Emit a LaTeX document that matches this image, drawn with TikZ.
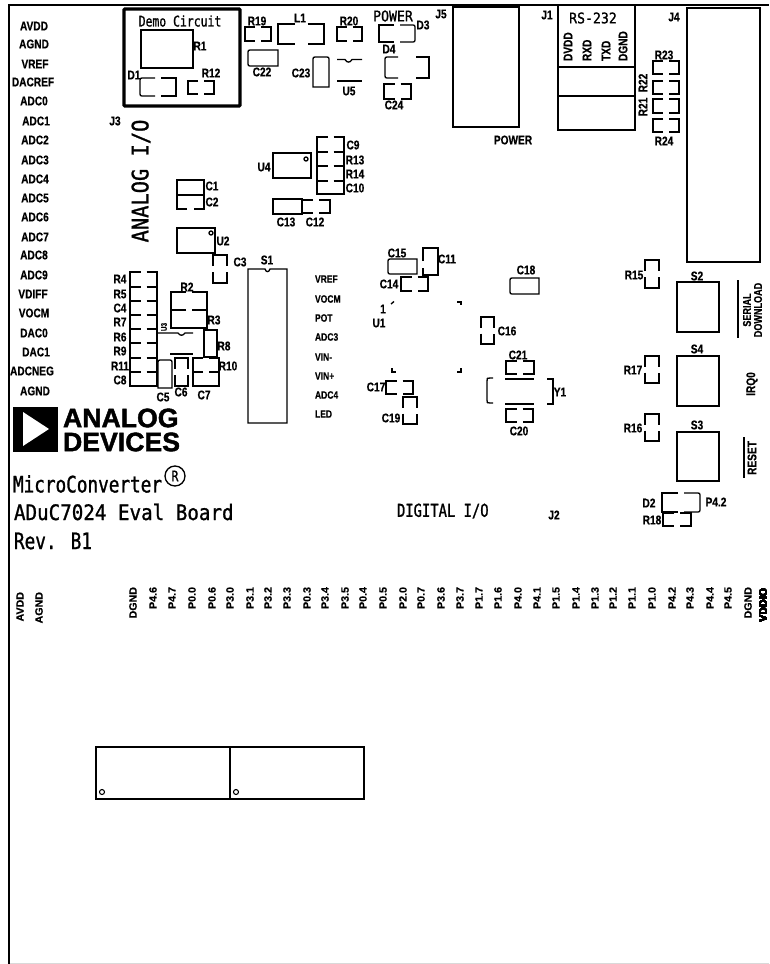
\documentclass[tikz,border=0pt]{standalone}
\usepackage{fontspec}
\setmainfont{Liberation Sans}
\newfontfamily\cadn[FakeStretch=0.8,FakeBold=0.5]{Liberation Sans}
\newfontfamily\cadw[FakeStretch=1.0,FakeBold=0.5]{Liberation Sans}
\newfontfamily\cadm[FakeStretch=0.9,FakeBold=1.1]{DejaVu Sans Mono}
\newfontfamily\cadt[FakeStretch=0.78,FakeBold=1.1]{DejaVu Sans Mono}
\newfontfamily\adif[FakeBold=1.6]{Liberation Sans}
\newcounter{lb}
\newcommand\gapw{3}
\tikzset{
  wire/.style={line width=1pt,line join=miter,line cap=butt},
  lab/.style={inner sep=0pt,outer sep=0pt,font=\cadn\bfseries\fontsize{9.5}{11}\selectfont},
  sm/.style={inner sep=0pt,outer sep=0pt,font=\cadn\bfseries\fontsize{8}{9}\selectfont},
  pin/.style={inner sep=0pt,outer sep=0pt,rotate=90,anchor=east,font=\cadw\bfseries\fontsize{8}{9}\selectfont},
  stroke/.style={inner sep=0pt,outer sep=0pt,font=\cadt\fontsize{11}{13}\selectfont},
  strokew/.style={inner sep=0pt,outer sep=0pt,font=\cadm\fontsize{11}{13}\selectfont},
  title/.style={inner sep=0pt,outer sep=0pt,anchor=west,font=\cadm\fontsize{16}{19}\selectfont},
  titlen/.style={inner sep=0pt,outer sep=0pt,anchor=west,font=\cadt\fontsize{17}{19}\selectfont},
  adi/.style={inner sep=0pt,outer sep=0pt,anchor=west,font=\adif\bfseries\fontsize{20}{22}\selectfont},
}
% text label with an automatic name
\newcommand\lbl[4][]{\stepcounter{lb}\node[lab,#1] (t\arabic{lb}) at (#2,#3) {#4};}
\newcommand\smlbl[3]{\stepcounter{lb}\node[sm,anchor=west] (t\arabic{lb}) at (#1,#2) {#3};}
\newcommand\pinl[3]{\stepcounter{lb}\node[pin] (t\arabic{lb}) at (#1,#2) {#3};}
% pad with a gap in the top and bottom edges
\newcommand\padH[5][]{%
  \pgfmathsetmacro\gl{(#2+#4)/2-\gapw}\pgfmathsetmacro\gr{(#2+#4)/2+\gapw}%
  \draw[wire,#1] (\gl,#3) -- (#2,#3) -- (#2,#5) -- (\gl,#5);
  \draw[wire,#1] (\gr,#3) -- (#4,#3) -- (#4,#5) -- (\gr,#5);}
% pad with a gap in the left and right edges
\newcommand\padV[5][]{%
  \pgfmathsetmacro\gt{(#3+#5)/2-\gapw}\pgfmathsetmacro\gb{(#3+#5)/2+\gapw}%
  \draw[wire,#1] (#2,\gt) -- (#2,#3) -- (#4,#3) -- (#4,\gt);
  \draw[wire,#1] (#2,\gb) -- (#2,#5) -- (#4,#5) -- (#4,\gb);}
% same, one end rounded
\newcommand\padHL[4]{%
  \pgfmathsetmacro\gl{(#1+#3)/2-\gapw}\pgfmathsetmacro\gr{(#1+#3)/2+\gapw}%
  \draw[wire] (\gl,#2) -- (#1+4,#2) .. controls (#1,#2) and (#1,#2) .. (#1,#2+4) -- (#1,#4-4) .. controls (#1,#4) and (#1,#4) .. (#1+4,#4) -- (\gl,#4);
  \draw[wire] (\gr,#2) -- (#3,#2) -- (#3,#4) -- (\gr,#4);}
\newcommand\padHR[4]{%
  \pgfmathsetmacro\gl{(#1+#3)/2-\gapw}\pgfmathsetmacro\gr{(#1+#3)/2+\gapw}%
  \draw[wire] (\gl,#2) -- (#1,#2) -- (#1,#4) -- (\gl,#4);
  \draw[wire] (\gr,#2) -- (#3-4,#2) .. controls (#3,#2) and (#3,#2) .. (#3,#2+4) -- (#3,#4-4) .. controls (#3,#4) and (#3,#4) .. (#3-4,#4) -- (\gr,#4);}
% closed pad, rounded on the left
\newcommand\solidL[4]{%
  \draw[wire] (#1+4,#2) -- (#3,#2) -- (#3,#4) -- (#1+4,#4) .. controls (#1,#4) and (#1,#4) .. (#1,#4-4) -- (#1,#2+4) .. controls (#1,#2) and (#1,#2) .. (#1+4,#2) -- cycle;}
% closed pad, rounded on top
\newcommand\solidT[4]{%
  \draw[wire] (#1,#4) -- (#1,#2+4) .. controls (#1,#2) and (#1,#2) .. (#1+4,#2) -- (#3-4,#2) .. controls (#3,#2) and (#3,#2) .. (#3,#2+4) -- (#3,#4) -- cycle;}
\begin{document}
\begin{tikzpicture}[x=0.75pt,y=-0.75pt]
\useasboundingbox (0,0) rectangle (769,964);
% border
\draw[line width=1.4pt] (9.3,964) -- (9.3,5) -- (769,5);
\draw[line width=0.6pt,black!15] (10,963.3) -- (769,963.3);
% demo circuit
\draw[line width=2.4pt,rounded corners=0.6pt] (124,9) rectangle (240,106);
\lbl[stroke]{180}{21}{Demo Circuit}
\draw[wire] (141,30) rectangle (193,68);
\lbl{200}{46}{R1}
\lbl{134}{75}{D1}
\padHL{140}{78}{176}{96}
\lbl{211}{73}{R12}
\padH{188}{81}{214}{94}
\padH{245}{27}{271}{41}
\lbl{257}{21}{R19}
\renewcommand\gapw{6.5}
\padH{278}{24}{324}{44}
\renewcommand\gapw{3}
\lbl{300}{18}{L1}
\padH{337}{27}{362}{41}
\lbl{349}{21}{R20}
\lbl[strokew]{393}{16}{POWER}
\padHR{379}{25}{415}{42}
\lbl{423}{25}{D3}
\lbl{389}{49}{D4}
\renewcommand\gapw{9}
\padHL{385}{57}{429}{78}
\renewcommand\gapw{3}
\padH{384}{84}{411}{99}
\lbl{394}{105}{C24}
\solidL{248}{50}{278}{66}
\lbl{262}{72}{C22}
\solidT{313}{57}{329}{87}
\lbl{301}{73}{C23}
\draw[wire] (337,59.5) -- (345,59.5) .. controls (347,63) and (350,63) .. (352,59.5) -- (362,59.5);
\draw[wire] (337,81) -- (362,81);
\lbl{349}{91}{U5}
\lbl{115}{121}{J3}
\stepcounter{lb}\node[stroke,rotate=90,font=\cadm\fontsize{17}{20}\selectfont] (analog) at (141,181) {ANALOG I/O};
% C1 C2
\draw[wire] (177,180) rectangle (204,195);
\draw[wire] (187,209) -- (177,209) -- (177,195) -- (204,195) -- (204,209) -- (194,209);
\lbl{212}{186}{C1}
\lbl{212}{202}{C2}
% U2
\draw[wire] (177,228) rectangle (215,253);
\draw[wire] (211,233) circle (2);
\lbl{223}{241}{U2}
\padV{213}{255}{227}{283}
\lbl{240}{262}{C3}
% U4
\draw[wire] (273,153) rectangle (311,178);
\draw[wire] (306,159) circle (2);
\lbl{264}{167}{U4}
\padH{317}{137}{344}{152}
\padH{317}{152}{344}{166}
\padH{317}{166}{344}{181}
\padH{317}{181}{344}{194}
\draw[wire] (317,194) -- (344,194);
\draw[wire,line width=1.8pt] (317,152) -- (327,152) (334,152) -- (344,152);
\lbl{353}{145}{C9}
\lbl{355}{160}{R13}
\lbl{355}{174}{R14}
\lbl{355}{188}{C10}
\draw[wire] (273,199) rectangle (302,214);
\padH{302}{200}{330}{213}
\lbl{286}{222}{C13}
\lbl{315}{222}{C12}
% S1
\draw[wire] (248,269) -- (265,269) .. controls (266,272.5) and (269,272.5) .. (270,269) -- (287,269) -- (287,423) -- (248,423) -- cycle;
\lbl{267}{260}{S1}
\smlbl{315}{279}{VREF}
\smlbl{315}{299}{VOCM}
\smlbl{315}{318}{POT}
\smlbl{315}{337}{ADC3}
\smlbl{315}{357}{VIN-}
\smlbl{315}{376}{VIN+}
\smlbl{315}{395}{ADC4}
\smlbl{315}{414}{LED}
% left list
\lbl{34}{26}{AVDD}
\lbl{34}{44}{AGND}
\lbl{35}{64}{VREF}
\lbl{33}{82}{DACREF}
\lbl{34}{101}{ADC0}
\lbl{36}{121}{ADC1}
\lbl{35}{140}{ADC2}
\lbl{35}{160}{ADC3}
\lbl{35}{179}{ADC4}
\lbl{35}{198}{ADC5}
\lbl{35}{217}{ADC6}
\lbl{35}{237}{ADC7}
\lbl{34}{255}{ADC8}
\lbl{34}{275}{ADC9}
\lbl{33}{294}{VDIFF}
\lbl{34}{313}{VOCM}
\lbl{34}{333}{DAC0}
\lbl{36}{352}{DAC1}
\lbl{32}{371}{ADCNEG}
\lbl{35}{391}{AGND}
% resistor stack
\padH{130}{272}{157}{287}
\padH{130}{287}{157}{301}
\padH{130}{301}{157}{315}
\padH{130}{315}{157}{329}
\padH{130}{329}{157}{343}
\padH{130}{343}{157}{358}
\padH{130}{358}{157}{372}
\padH{130}{372}{157}{386}
\draw[wire] (130,386) -- (157,386);
\foreach \yy in {301,329,343,358,372}
  \draw[wire,line width=1.6pt] (130,\yy) -- (140,\yy) (147,\yy) -- (157,\yy);
\lbl{120}{279}{R4}
\lbl{120}{294}{R5}
\lbl{120}{308}{C4}
\lbl{120}{322}{R7}
\lbl{120}{337}{R6}
\lbl{120}{351}{R9}
\lbl{120}{366}{R11}
\lbl{120}{380}{C8}
% R2 R3
\padH{171}{292}{207}{310}
\padH{171}{310}{207}{328}
\draw[wire] (171,328) -- (207,328);
\draw[wire,line width=2pt] (171,310) -- (185,310) (192,310) -- (207,310);
\lbl{187}{287}{R2}
\lbl{214}{320}{R3}
% U3
\stepcounter{lb}\node[sm,rotate=90,font=\cadn\bfseries\fontsize{6}{7}\selectfont] (u3) at (164,327) {U3};
\draw[wire] (158,333) -- (178,333) .. controls (180,336) and (183,336) .. (185,333) -- (193,333);
\draw[wire] (170,354) -- (193,354);
\draw[wire] (204,357) -- (204,330) -- (217,330) -- (217,357) -- cycle;
\lbl{224}{346}{R8}
\solidT{158}{360}{172}{388}
\lbl{163}{397}{C5}
\padV{175}{358}{188}{386}
\lbl{181}{392}{C6}
\padH{193}{358}{219}{372}
\padH{193}{372}{219}{386}
\draw[wire] (193,386) -- (219,386);
\draw[wire,line width=1.6pt] (193,372) -- (203,372) (209,372) -- (219,372);
\lbl{204}{395}{C7}
\lbl{228}{366}{R10}
% logo
\fill[black] (13,407) rectangle (58,452);
\fill[white] (23,412) -- (49,429) -- (23,446) -- cycle;
\stepcounter{lb}\node[adi] (analogdev) at (63,418) {ANALOG};
\stepcounter{lb}\node[adi] (devices) at (63,442) {DEVICES};
% titles
\stepcounter{lb}\node[titlen] (micro) at (13,484) {MicroConverter};
\draw[line width=1pt] (175,476) circle (10);
\lbl[stroke]{175}{476}{R}
\stepcounter{lb}\node[title] (board) at (14,512) {ADuC7024 Eval Board};
\stepcounter{lb}\node[titlen] (rev) at (14,541) {Rev. B1};
\stepcounter{lb}\node[titlen,font=\cadt\fontsize{13.3}{15}\selectfont] (dig) at (397,511) {DIGITAL I/O};
\lbl{554}{515}{J2}
% bottom pins
\pinl{20}{592}{AVDD}
\pinl{39}{592}{AGND}
\foreach \px/\ptxt in {133/DGND,153/P4.6,172/P4.7,192/P0.0,212/P0.6,230/P3.0,250/P3.1,268/P3.2,287/P3.3,307/P0.3,325/P3.4,345/P3.5,363/P0.4,383/P0.5,403/P2.0,421/P0.7,441/P3.6,460/P3.7,479/P1.7,498/P1.6,518/P4.0,537/P4.1,556/P1.5,576/P1.4,595/P1.3,613/P1.2,632/P1.1,652/P1.0,672/P4.2,690/P4.3,710/P4.4,728/P4.5,748/DGND}
  \pinl{\px}{587}{\ptxt}
\pinl{763}{588}{VDDIO}
% J5, J1, J4
\draw[wire] (453,7) rectangle (519,127);
\lbl{441}{14}{J5}
\lbl{513}{140}{POWER}
\lbl{547}{15}{J1}
\draw[wire] (558,5) -- (558,130) -- (635,130) -- (635,5);
\draw[wire] (557,67) -- (635,67);
\draw[wire] (557,96) -- (635,96);
\lbl[strokew]{593}{18}{RS-232}
\foreach \rx/\rt/\rn in {568/DVDD/a,587/RXD/b,606/TXD/c,623/DGND/d}
  \node[stroke,rotate=90,anchor=west,font=\cadn\bfseries\fontsize{9.5}{11}\selectfont] (rs\rn) at (\rx,61) {\rt};
\draw[wire] (687,8) rectangle (760,262);
\lbl{674}{17}{J4}
\padH{653}{61}{679}{74}
\padH{653}{81}{679}{94}
\padH{653}{99}{679}{113}
\padH{653}{119}{679}{132}
\lbl{664}{55}{R23}
\lbl{664}{141}{R24}
\lbl[rotate=90]{643}{83}{R22}
\lbl[rotate=90]{643}{107}{R21}
% U1 area
\solidL{388}{259}{417}{274}
\lbl{397}{253}{C15}
\draw[wire] (423,261) -- (423,248) -- (438,248) -- (438,275) -- (423,275) -- (423,268);
\lbl{447}{259}{C11}
\padH{401}{277}{428}{291}
\lbl{389}{284}{C14}
\solidL{510}{278}{539}{294}
\lbl{526}{270}{C18}
\draw[wire] (391,304) -- (394,301.5);
\draw[wire] (457,302) -- (461,302) -- (461,305);
\draw[wire] (392,368) -- (392,372) -- (396,372);
\draw[wire] (457,372) -- (461,372) -- (461,368);
\lbl{383}{309}{1}
\lbl{379}{323}{U1}
\padV{481}{317}{494}{344}
\lbl{507}{331}{C16}
\padH{506}{361}{534}{374}
\lbl{518}{355}{C21}
\draw[wire] (493,378) -- (490,378) .. controls (487,378) and (487,378) .. (487,381) -- (487,400) .. controls (487,403) and (487,403) .. (490,403) -- (493,403);
\draw[wire] (547,379) -- (553,379) -- (553,404) -- (547,404);
\draw[wire,line width=1.5pt] (505,379) -- (534,379);
\draw[wire,line width=1.5pt] (505,404) -- (534,404);
\lbl{560}{392}{Y1}
\padH{506}{409}{533}{422}
\lbl{519}{431}{C20}
\padH{386}{381}{413}{394}
\lbl{376}{387}{C17}
\padV{403}{397}{417}{424}
\lbl{391}{418}{C19}
% right switches
\padV{645}{260}{659}{288}
\lbl{634}{275}{R15}
\draw[wire] (677,282) rectangle (719,332);
\lbl{697}{276}{S2}
\lbl[rotate=90,font=\cadn\bfseries\fontsize{8.5}{10}\selectfont]{747}{310}{SERIAL}
\lbl[rotate=90,font=\cadn\bfseries\fontsize{8.5}{10}\selectfont]{758}{310}{DOWNLOAD}
\draw[wire] (738,280) -- (738,338);
\padV{645}{356}{659}{383}
\lbl{633}{370}{R17}
\draw[wire] (677,356) rectangle (719,406);
\lbl{697}{349}{S4}
\lbl[rotate=90]{752}{384}{IRQ0}
\padV{645}{414}{659}{441}
\lbl{633}{428}{R16}
\draw[wire] (677,432) rectangle (719,481);
\lbl{697}{425}{S3}
\lbl[rotate=90]{752}{458}{RESET}
\draw[wire] (744,437) -- (744,478);
\padHR{662}{493}{700}{512}
\lbl{649}{503}{D2}
\lbl{716}{502}{P4.2}
\padH{663}{513}{691}{526}
\lbl{652}{520}{R18}
% bottom connectors
\draw[line width=1.1pt] (96,747) rectangle (230,799);
\draw[line width=1.1pt] (230,747) rectangle (364,799);
\draw[line width=0.8pt] (102,792) circle (2.5);
\draw[line width=0.8pt] (236,792) circle (2.5);
\end{tikzpicture}
\end{document}
